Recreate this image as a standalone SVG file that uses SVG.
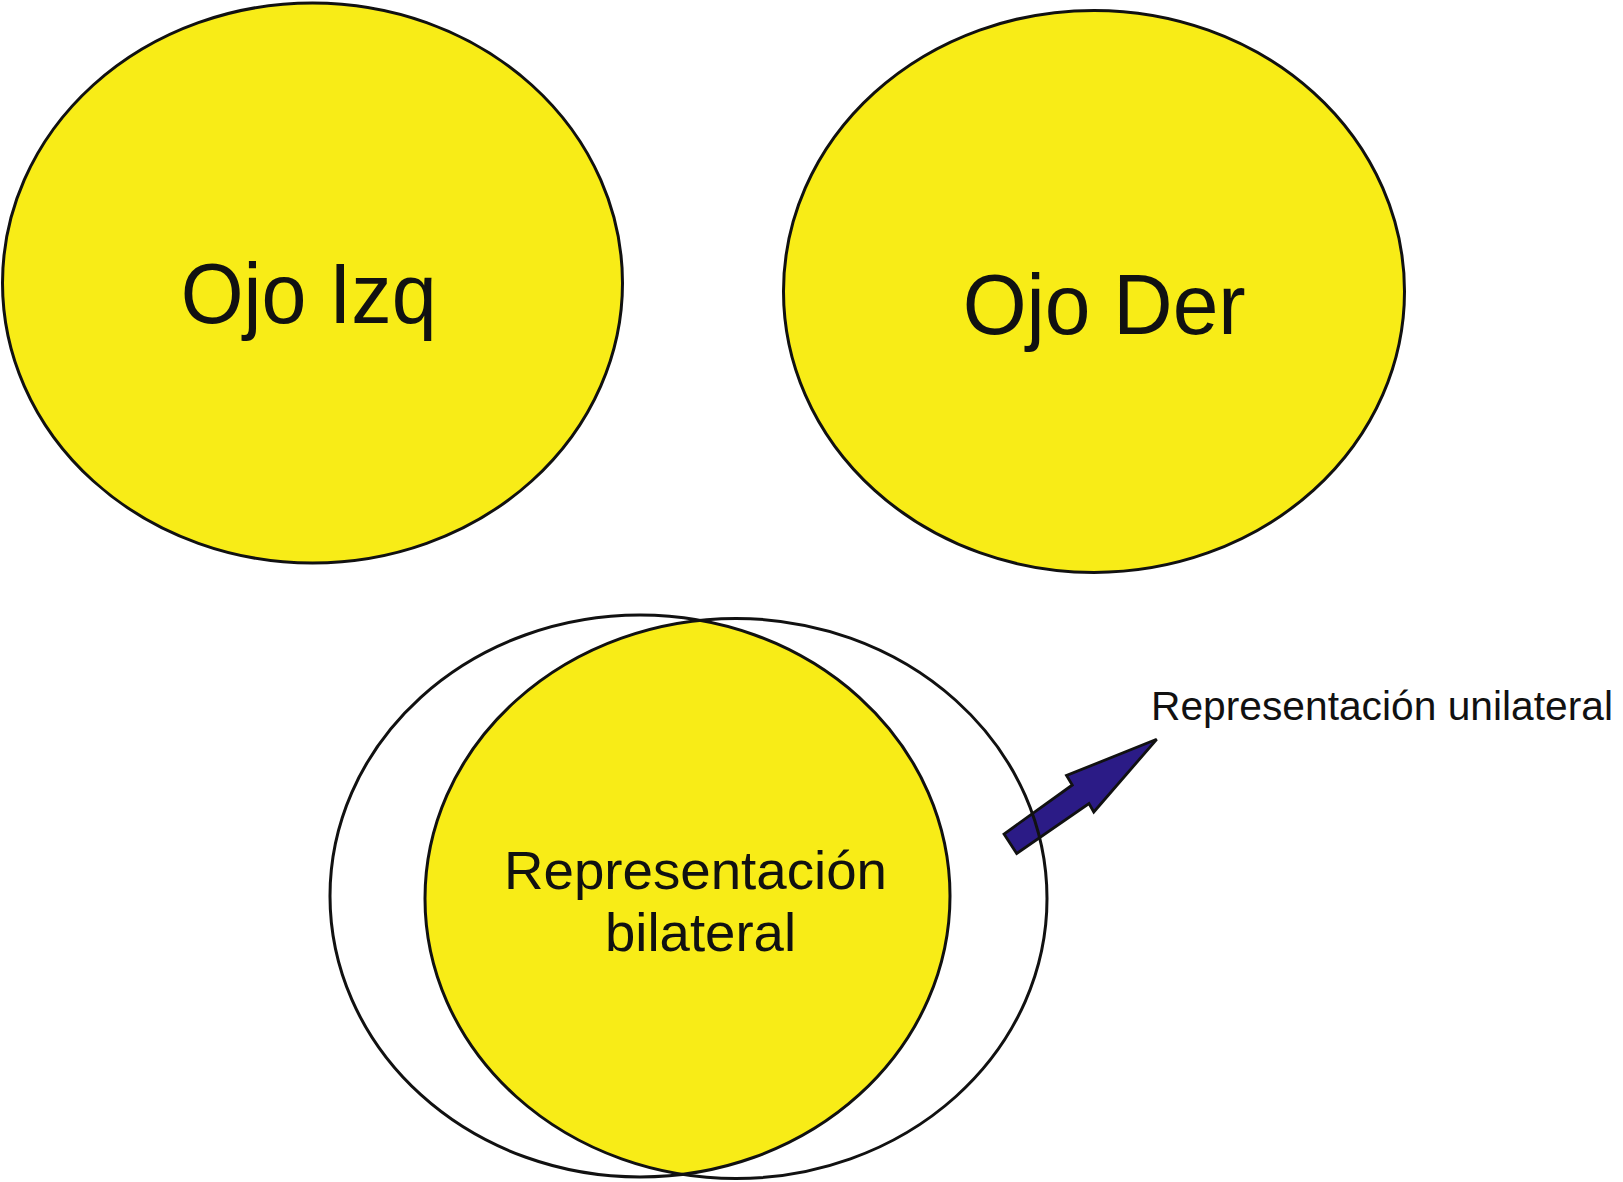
<svg xmlns="http://www.w3.org/2000/svg" width="1623" height="1182" viewBox="0 0 1623 1182">
  <style>
    .eye { fill: #F8EC17; stroke: #111; stroke-width: 3; }
    .ring { fill: none; stroke: #111; stroke-width: 3; }
    .lens { fill: #F8EC17; stroke: none; }
    .lbl { font-family: "Liberation Sans", Arial, Helvetica, sans-serif; fill: #111; }
    .arrow { fill: #2B1B86; stroke: #111; stroke-width: 2.8; stroke-linejoin: miter; }
  </style>
  <defs>
    <clipPath id="clipLeft">
      <ellipse cx="640" cy="896" rx="310" ry="281"/>
    </clipPath>
  </defs>
  <rect width="1623" height="1182" fill="#FFFFFF"/>

  <g id="ojo-izq">
    <ellipse class="eye" cx="312.5" cy="283" rx="310" ry="280"/>
    <text class="lbl" x="180.7" y="323.3" font-size="85" textLength="256" lengthAdjust="spacingAndGlyphs">Ojo Izq</text>
  </g>

  <g id="ojo-der">
    <ellipse class="eye" cx="1094" cy="291.4" rx="310.5" ry="281"/>
    <text class="lbl" x="962.7" y="334" font-size="85" textLength="283" lengthAdjust="spacingAndGlyphs">Ojo Der</text>
  </g>

  <g id="connectors">
    <polygon class="arrow" points="1004,834 1016.7,853.5 1089,803.5 1093.8,812 1156.7,739.3 1066.5,775.5 1072.3,785"/>
  </g>

  <g id="representacion-bilateral">
    <ellipse class="lens" cx="736" cy="898.5" rx="311" ry="280" clip-path="url(#clipLeft)"/>
    <ellipse class="ring" cx="640" cy="896" rx="310" ry="281"/>
    <ellipse class="ring" cx="736" cy="898.5" rx="311" ry="280"/>
    <text class="lbl" x="504" y="889" font-size="54" textLength="383" lengthAdjust="spacingAndGlyphs">Representación</text>
    <text class="lbl" x="605" y="951" font-size="54" textLength="191" lengthAdjust="spacingAndGlyphs">bilateral</text>
  </g>

  <g id="representacion-unilateral">
    <text class="lbl" x="1151" y="720" font-size="41" textLength="462" lengthAdjust="spacingAndGlyphs">Representación unilateral</text>
  </g>
</svg>
